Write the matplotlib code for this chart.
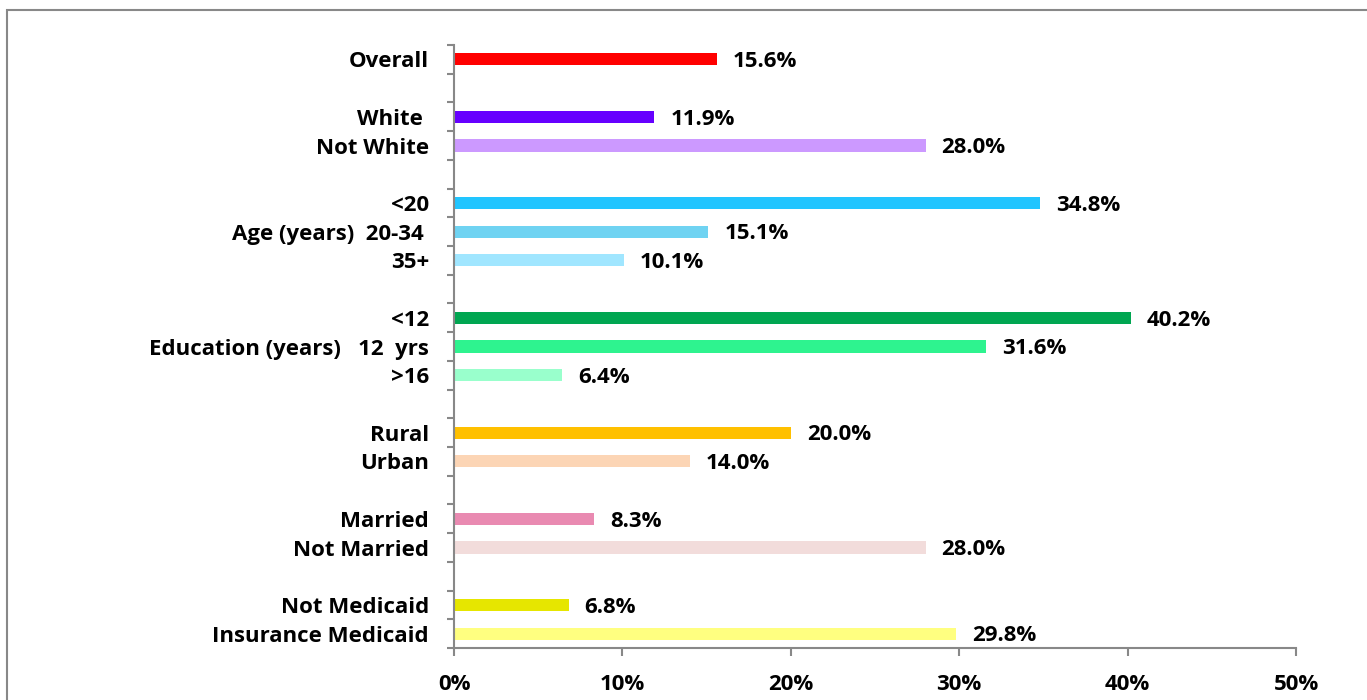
"""Horizontal bar chart of percentages by group."""

import matplotlib.pyplot as plt
from matplotlib.patches import Rectangle
from matplotlib.ticker import FuncFormatter, MultipleLocator

# rows top to bottom, an empty string marks the gap between groups
labels = [
    "Overall", "",
    "White ", "Not White", "",
    "<20", "Age (years)  20-34 ", "35+", "",
    "<12", "Education (years)   12  yrs", ">16", "",
    "Rural", "Urban", "",
    "Married", "Not Married", "",
    "Not Medicaid", "Insurance Medicaid",
]
values = [
    15.6, None,
    11.9, 28.0, None,
    34.8, 15.1, 10.1, None,
    40.2, 31.6, 6.4, None,
    20.0, 14.0, None,
    8.3, 28.0, None,
    6.8, 29.8,
]
colors = [
    "#FF0000", None,
    "#6600FF", "#CC99FF", None,
    "#21C5FF", "#6FD3F2", "#A0E6FF", None,
    "#00A651", "#2EF38F", "#99FFCC", None,
    "#FFC000", "#FCD5B5", None,
    "#E98AB1", "#F2DCDB", None,
    "#E6E600", "#FFFF80",
]

plt.rcParams["font.family"] = ["Open Sans", "DejaVu Sans"]
plt.rcParams["font.weight"] = "bold"
FS = 16

fig = plt.figure(figsize=(13.67, 7.0), dpi=100)
ax = fig.add_axes([454 / 1367, 1 - 648 / 700, (1296 - 454) / 1367, (648 - 45) / 700])

n = len(labels)
for i, (v, c) in enumerate(zip(values, colors)):
    if v is None:
        continue
    ax.barh(i, v, height=0.42, color=c)
    ax.text(v + 0.95, i + 0.08, f"{v:.1f}%", va="center", ha="left",
            fontsize=FS, fontweight="bold")

ax.set_xlim(0, 50)
ax.set_ylim(n - 0.5, -0.5)
ax.xaxis.set_major_locator(MultipleLocator(10))
ax.xaxis.set_major_formatter(FuncFormatter(lambda x, _: f"{x:.0f}%"))

ax.set_yticks(range(n))
ax.set_yticklabels(labels)
ax.set_yticks([i - 0.5 for i in range(n + 1)], minor=True)

for side in ("top", "right"):
    ax.spines[side].set_visible(False)
for side in ("left", "bottom"):
    ax.spines[side].set_color("#888888")
    ax.spines[side].set_linewidth(1.5)

ax.tick_params(axis="y", which="major", length=0, pad=18, labelsize=FS)
ax.tick_params(axis="y", which="minor", length=5, width=1.5, color="#888888")
ax.tick_params(axis="x", length=6, width=1.5, color="#888888", pad=13,
               labelsize=FS)

# outer chart frame (cropped at the right and bottom)
fig.add_artist(Rectangle((7 / 1367, -0.1), 1.5, 1 - 10 / 700 + 0.1,
                         transform=fig.transFigure, fill=False,
                         ec="#888888", lw=1.5))

fig.savefig("out.png", dpi=100)
